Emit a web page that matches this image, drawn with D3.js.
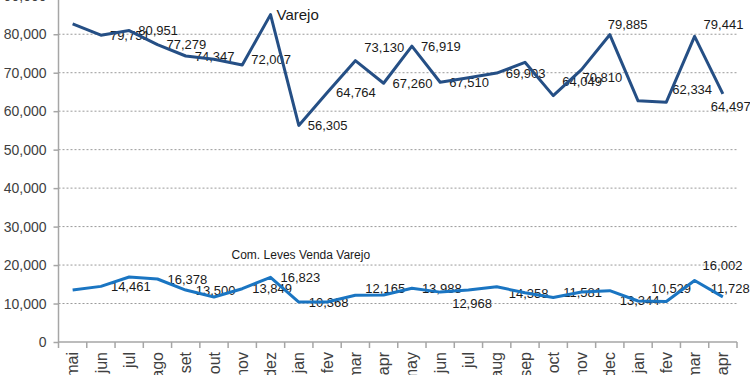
<!DOCTYPE html>
<html lang="pt">
<head>
<meta charset="UTF-8">
<title>Varejo</title>
<script src="https://d3js.org/d3.v7.min.js"></script>
<style>
    body { margin: 0; background: #fff; }
    svg { display: block; font-family: "Liberation Sans", Arial, sans-serif; }
    .grid line { stroke: #9a9a9a; stroke-dasharray: 2,2; stroke-width: 1; }
    .axis path, .axis line { stroke: #a6a6a6; stroke-width: 1.5; }
    .axis text { fill: #404040; }
    .lbl { font-size: 13px; fill: #1a1a1a; }
    .line { fill: none; stroke-width: 3px; stroke-linejoin: round; }
</style>
</head>
<body>
<svg id="svg" width="750" height="375"></svg>
<script>
    // Data
    const months = ["mai", "jun", "jul", "ago", "set", "out", "nov", "dez", "jan", "fev", "mar", "apr",
        "may", "jun", "jul", "aug", "sep", "oct", "nov", "dec", "jan", "fev", "mar", "apr"];
    const varejo = [82700, 79751, 80951, 77279, 74347, 73500, 72007, 85100, 56305, 64764, 73130, 67260,
        76919, 67510, 68700, 69903, 72700, 64049, 70810, 79885, 62700, 62334, 79441, 64497];
    const comLeves = [13500, 14461, 16900, 16378, 13500, 11700, 13849, 16823, 10368, 10400, 12165, 12200,
        13988, 12968, 13500, 14358, 12800, 11581, 13000, 13344, 10650, 10529, 16002, 11728];
    const yTicks = [0, 10000, 20000, 30000, 40000, 50000, 60000, 70000, 80000, 90000];
    // which points carry a value label
    const varejoLabelled = [1, 2, 3, 4, 6, 8, 9, 10, 11, 12, 13, 15, 17, 18, 19, 21, 22, 23];
    const comLevesLabelled = [1, 3, 4, 6, 7, 8, 10, 12, 13, 15, 17, 19, 21, 22, 23];

    // label nudges {index: [dx, dy]} - hand placed labels in the original
    const nudge1 = { 6: [9, -6], 10: [9, -13], 17: [9, -14], 18: [1, 8], 19: [-2, -10], 21: [6, -13], 22: [9, -12], 23: [-12, 13] };
    const nudge2 = { 10: [10, -7], 13: [12, 11], 15: [12, 7], 17: [10, -5], 19: [10, 10], 21: [-15, -13], 22: [8, -15], 23: [-12, -8] };

    const svg = d3.select("#svg");
    const left = 58.5, right = 737, bottom = 342;

    const x = d3.scaleBand().domain(d3.range(months.length)).range([left, right]);
    const y = d3.scaleLinear().domain([0, 90000]).range([bottom, bottom - 9 * 38.47]);
    const cx = i => x(i) + x.bandwidth() / 2;

    // gridlines
    svg.append("g").attr("class", "grid")
        .selectAll("line").data(yTicks.slice(1)).enter().append("line")
        .attr("x1", left).attr("x2", right)
        .attr("y1", d => y(d)).attr("y2", d => y(d));

    // y axis
    const yAxis = svg.append("g").attr("class", "axis")
        .attr("transform", `translate(${left},0)`)
        .call(d3.axisLeft(y).tickValues(yTicks).tickFormat(d3.format(",")).tickSize(5).tickSizeOuter(0));
    yAxis.selectAll("text").attr("font-size", "14px").attr("x", -12);
    yAxis.select(".domain").attr("d", `M0,${bottom}V-10`);

    // x axis (ticks on band boundaries)
    const xAxis = svg.append("g").attr("class", "axis")
        .attr("transform", `translate(0,${bottom})`);
    xAxis.append("path").attr("d", `M${left},0H${right}`);
    xAxis.selectAll("line").data(d3.range(months.length + 1)).enter().append("line")
        .attr("x1", i => left + i * x.bandwidth()).attr("x2", i => left + i * x.bandwidth())
        .attr("y1", 0).attr("y2", 6);
    xAxis.selectAll("text").data(months).enter().append("text")
        .attr("transform", (d, i) => `translate(${cx(i)},10) rotate(-90)`)
        .attr("text-anchor", "end")
        .attr("dy", "0.35em")
        .attr("font-size", "16px")
        .text(d => d);

    // value labels (drawn under the lines, as in the original)
    const drawLabels = (vals, idx, nudge, dflt) => {
        svg.append("g").selectAll("text").data(idx).enter().append("text")
            .attr("class", "lbl")
            .attr("x", i => cx(i) + (nudge[i] ? nudge[i][0] : dflt))
            .attr("y", i => y(vals[i]) + (nudge[i] ? nudge[i][1] : 0))
            .attr("dy", "0.35em")
            .text(i => d3.format(",")(vals[i]));
    };
    drawLabels(varejo, varejoLabelled, nudge1, 9);
    drawLabels(comLeves, comLevesLabelled, nudge2, 10);

    // series names
    svg.append("text").attr("class", "lbl").attr("font-size", "15px")
        .attr("x", cx(7) + 6).attr("y", y(varejo[7])).attr("dy", "0.35em").style("font-size", "15px")
        .text("Varejo");
    svg.append("text").attr("class", "lbl").style("font-size", "12px")
        .attr("x", cx(7) - 39).attr("y", y(comLeves[7]) - 22).attr("dy", "0.35em")
        .text("Com. Leves Venda Varejo");

    // lines
    const line = d3.line().x((d, i) => cx(i)).y(d => y(d));
    svg.append("path").datum(varejo).attr("class", "line").attr("stroke", "#254f85").attr("d", line);
    svg.append("path").datum(comLeves).attr("class", "line").attr("stroke", "#1a75c2").attr("d", line);
</script>
</body>
</html>
